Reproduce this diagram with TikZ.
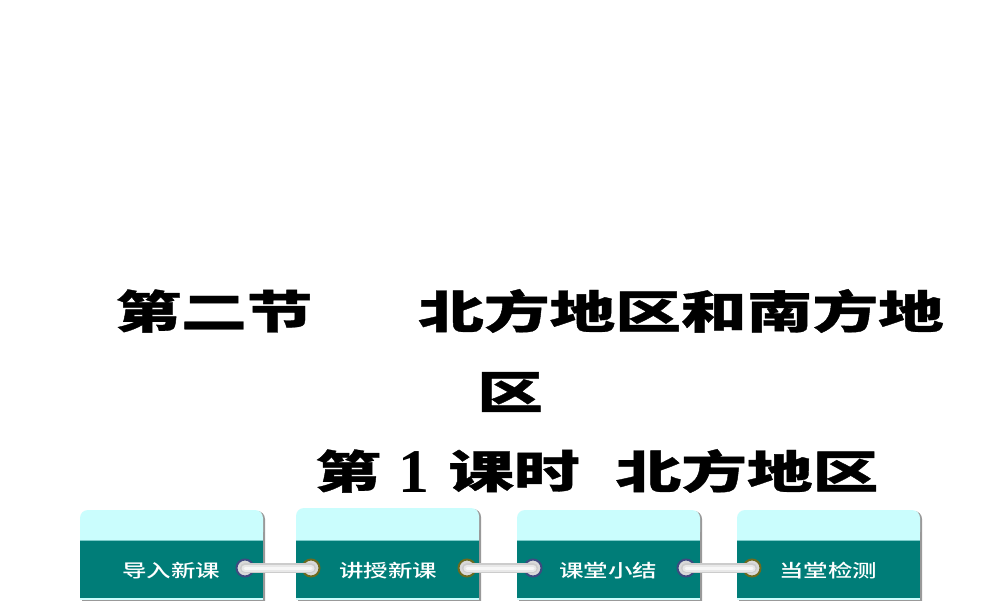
\documentclass[tikz,border=0pt]{standalone}
\usepackage{fontspec}
\newfontfamily\cjkblack[UprightFont=* Black,UprightFeatures={FakeBold=0.7}]{Noto Sans CJK SC}
\newfontfamily\cjkmed[UprightFont=* Medium]{Noto Sans CJK SC}
\setmainfont{Liberation Serif}
\definecolor{cardtop}{HTML}{CAFDFD}
\definecolor{carddark}{HTML}{007D78}
\definecolor{ringblue}{HTML}{3F4A80}
\definecolor{ringolive}{HTML}{6E6A1E}
\tikzset{
  x=1pt,y=-1pt,
  ttl/.style={inner sep=0pt,anchor=center,font=\fontsize{45}{45}\cjkblack,xscale=1.46,text=black},
  lab/.style={inner sep=0pt,anchor=center,text=white,font=\fontsize{18}{18}\cjkmed,xscale=1.36},
  dotb/.style={circle,inner sep=0pt,minimum size=17pt,fill=black!15,draw=ringblue,line width=2pt},
  doto/.style={circle,inner sep=0pt,minimum size=17pt,fill=black!15,draw=ringolive,line width=2pt},
  barline/.style={line width=10pt,draw=black!20,line cap=round},
  barmid/.style={line width=7pt,draw=black!9,line cap=round},
  barlight/.style={line width=3pt,draw=black!3,line cap=round},
}
\newcommand{\card}[2]{% x, top
  \fill[black!40,rounded corners=8pt] (#1+2,#2+1) -- (#1+185,#2+1) -- (#1+185,610) -- (#1+2,610) -- cycle;
  \fill[cardtop,rounded corners=8pt] (#1,#2+30) -- (#1,#2) -- (#1+183,#2) -- (#1+183,#2+30) -- cycle;
  \fill[cardtop] (#1,#2+15) rectangle (#1+183,540);
  \fill[carddark] (#1,540) rectangle (#1+183,598);
  \draw[cardtop!60!carddark,line width=1pt] (#1,540.5) -- (#1+183,540.5);
  \fill[cardtop] (#1,598) rectangle (#1+183,600);
}
\begin{document}
\begin{tikzpicture}
\useasboundingbox (0,0) rectangle (1000,600);
\fill[white] (0,0) rectangle (1000,600);
\node[ttl] (t1) at (214,311) {第二节};
\node[ttl] (t2) at (681,311) {北方地区和南方地};
\node[ttl] (t3) at (510,392) {区};
\node[ttl] (t4) at (348,471) {第};
\node[inner sep=0pt,font=\fontsize{62}{62}\selectfont\bfseries] (t5) at (414,472) {1};
\node[ttl] (t6) at (514,471) {课时};
\node[ttl] (t7) at (747,471) {北方地区};
\card{80}{510}
\card{296}{508}
\card{517}{510}
\card{737}{510}
\node[lab] (l1) at (171,571) {导入新课};
\node[lab] (l2) at (388,571) {讲授新课};
\node[lab] (l3) at (608,571) {课堂小结};
\node[lab] (l4) at (828,571) {当堂检测};
\node[dotb] (a1) at (245,568) {};
\node[doto] (a2) at (311,568) {};
\node[doto] (b1) at (467,568) {};
\node[dotb] (b2) at (533,568) {};
\node[dotb] (c1) at (686,568) {};
\node[doto] (c2) at (752,568) {};
\foreach \p/\q in {a1/a2,b1/b2,c1/c2}{
  \draw[barline] (\p.center) -- (\q.center);
  \draw[barmid] (\p.center) -- (\q.center);
  \draw[barlight] (\p.center) -- (\q.center);
}
\end{tikzpicture}
\end{document}
